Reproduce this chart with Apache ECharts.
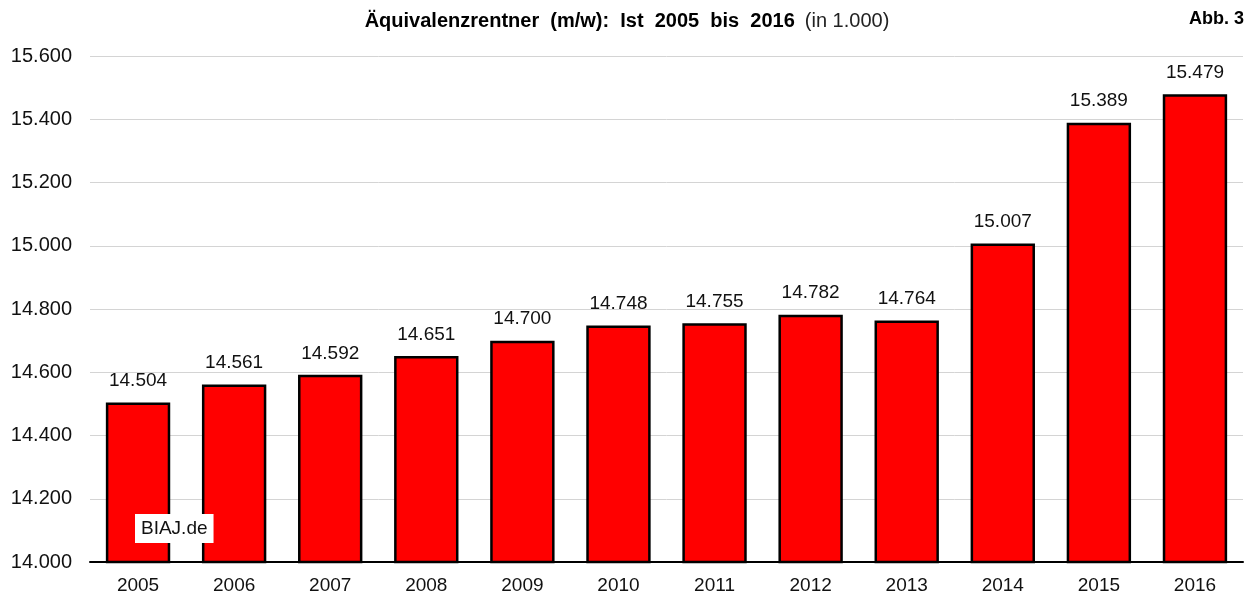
<!DOCTYPE html>
<html>
<head>
<meta charset="utf-8">
<script src="https://cdn.jsdelivr.net/npm/echarts@6/dist/echarts.min.js"></script>
<style>
  html, body { margin: 0; padding: 0; background: #fff; }
  #chart { width: 1254px; height: 599px; }
</style>
</head>
<body>
<div id="chart"></div>
<script>
// Jahre und Werte (in 1.000)
const years = ['2005', '2006', '2007', '2008', '2009', '2010', '2011', '2012', '2013', '2014', '2015', '2016']
const rentner = [14504, 14561, 14592, 14651, 14700, 14748, 14755, 14782, 14764, 15007, 15389, 15479]
const yTicks = [14000, 14200, 14400, 14600, 14800, 15000, 15200, 15400, 15600]

const fmt = v => {
  const s = String(Math.round(v))
  return s.slice(0, s.length - 3) + '.' + s.slice(-3)
}

const chart = echarts.init(document.getElementById('chart'))
const font = 'Liberation Sans, Arial, sans-serif'

chart.setOption({
  animation: false,
  backgroundColor: '#fff',
  title: {
    text: '{b|Äquivalenzrentner  (m/w):  Ist  2005  bis  2016}  {n|(in 1.000)}',
    left: 'center',
    top: 6,
    textStyle: {
      rich: {
        b: { fontFamily: font, fontSize: 20, fontWeight: 'bold', color: '#000' },
        n: { fontFamily: font, fontSize: 20, fontWeight: 'normal', color: '#222' },
      },
    },
  },
  graphic: [
    {
      type: 'text', right: 10, top: 10, z: 100,
      style: { text: 'Abb. 3', font: 'bold 18px ' + font, fill: '#000' },
    },
    {
      type: 'text', left: 135, top: 514, z: 100,
      style: {
        text: 'BIAJ.de', font: '19px ' + font, fill: '#111',
        backgroundColor: '#fff', padding: [5, 6, 5, 6],
      },
    },
  ],
  grid: { left: 90, right: 11, top: 56, bottom: 37 },
  xAxis: {
    type: 'category',
    data: years,
    axisLine: { lineStyle: { color: '#000', width: 2 } },
    axisTick: { show: false },
    axisLabel: { fontFamily: font, fontSize: 19, color: '#111', margin: 14 },
  },
  yAxis: {
    type: 'value',
    min: yTicks[0],
    max: yTicks[yTicks.length - 1],
    interval: 200,
    axisLine: { show: false },
    axisTick: { show: false },
    axisLabel: { fontFamily: font, fontSize: 20, color: '#111', margin: 18, formatter: fmt },
    splitLine: { lineStyle: { color: '#d4d4d4', width: 1 } },
  },
  series: [{
    type: 'bar',
    data: rentner,
    barWidth: '67%',
    itemStyle: { color: '#ff0000', borderColor: '#000', borderWidth: 2.5 },
    label: {
      show: true, position: 'top', distance: 12,
      fontFamily: font, fontSize: 19, color: '#111',
      formatter: p => fmt(p.value),
    },
  }],
})
</script>
</body>
</html>
